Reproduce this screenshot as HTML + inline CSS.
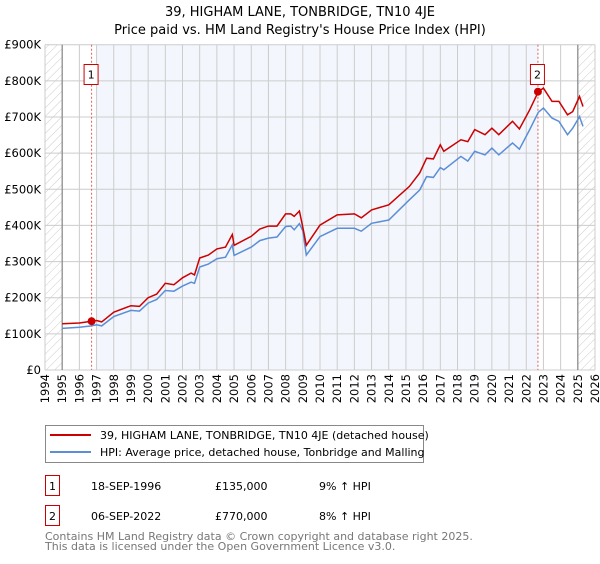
<!DOCTYPE html>
<html><head><meta charset="utf-8"><style>
body{margin:0;background:#fff;font-family:"DejaVu Sans","Liberation Sans",sans-serif;}
</style></head><body>
<svg width="600" height="560" xmlns="http://www.w3.org/2000/svg" font-family="DejaVu Sans, Liberation Sans, sans-serif">
<defs><pattern id="hatch" width="6" height="6" patternUnits="userSpaceOnUse" patternTransform="rotate(45)"><line x1="0" y1="0" x2="0" y2="6" stroke="#ccc" stroke-width="1"/></pattern></defs>
<text x="300" y="16" text-anchor="middle" font-size="13">39, HIGHAM LANE, TONBRIDGE, TN10 4JE</text>
<text x="300" y="34" text-anchor="middle" font-size="13">Price paid vs. HM Land Registry's House Price Index (HPI)</text>
<g id="plot"></g>
<g>
<rect x="45.5" y="425.5" width="378" height="37" fill="#fff" stroke="#888"/>
<line x1="50" y1="435" x2="91" y2="435" stroke="#cc0000" stroke-width="2"/>
<text x="100" y="439" font-size="11">39, HIGHAM LANE, TONBRIDGE, TN10 4JE (detached house)</text>
<line x1="50" y1="452" x2="91" y2="452" stroke="#5b8ed6" stroke-width="2"/>
<text x="100" y="456" font-size="11">HPI: Average price, detached house, Tonbridge and Malling</text>
</g>
<g font-size="11">
<rect x="45.5" y="475.5" width="14" height="20" fill="#fff" stroke="#cc0000"/>
<text x="52.5" y="490" text-anchor="middle">1</text>
<text x="91" y="490">18-SEP-1996</text><text x="215" y="490">£135,000</text><text x="319" y="490">9% ↑ HPI</text>
<rect x="45.5" y="505.5" width="14" height="20" fill="#fff" stroke="#cc0000"/>
<text x="52.5" y="520" text-anchor="middle">2</text>
<text x="91" y="520">06-SEP-2022</text><text x="215" y="520">£770,000</text><text x="319" y="520">8% ↑ HPI</text>
</g>
<text x="45" y="540" font-size="11" fill="#777">Contains HM Land Registry data © Crown copyright and database right 2025.</text>
<text x="45" y="550" font-size="11" fill="#777">This data is licensed under the Open Government Licence v3.0.</text>
</svg>
<script>
const hpiYears=[1995,1996,1996.7,1997,1997.3,1998,1999,1999.5,2000,2000.5,2001,2001.5,2002,2002.5,2002.7,2003,2003.5,2004,2004.5,2004.9,2005.0,2006,2006.5,2007,2007.5,2008,2008.3,2008.5,2008.8,2009.0,2009.2,2010,2011,2012,2012.4,2013,2014,2015.2,2015.8,2016.2,2016.6,2017.0,2017.2,2018.2,2018.6,2019.0,2019.6,2020.0,2020.4,2021.2,2021.6,2022.2,2022.7,2023.0,2023.5,2023.9,2024.4,2024.7,2025.1,2025.3];
const hpiValues=[115,118,122,125,122,148,165,163,185,195,220,218,232,243,240,285,293,308,312,346,317,340,358,365,368,397,398,388,405,385,318,369,392,392,384,406,415,471,498,535,533,560,554,591,578,605,595,614,595,628,611,665,713,725,697,688,651,669,701,674];
const priceValues=[128,130,135,137,133,160,178,176,200,210,240,236,255,268,263,310,318,335,340,375,345,370,390,398,398,432,432,425,440,395,345,401,429,432,421,443,457,508,545,586,584,623,605,637,632,665,651,669,651,688,667,720,770,780,743,743,706,715,757,729];
const yTicks=[0,100,200,300,400,500,600,700,800,900];
const yTickLabels=["£0","£100K","£200K","£300K","£400K","£500K","£600K","£700K","£800K","£900K"];
const xTicks=[1994,1995,1996,1997,1998,1999,2000,2001,2002,2003,2004,2005,2006,2007,2008,2009,2010,2011,2012,2013,2014,2015,2016,2017,2018,2019,2020,2021,2022,2023,2024,2025,2026];
const sales=[{n:"1",year:1996.71,value:135},{n:"2",year:2022.68,value:770}];
const X=y=>45+(y-1994)*(550/32);
const Y=v=>370-v*(325.3/900);
const NS="http://www.w3.org/2000/svg";
const g=document.getElementById('plot');


function mk(t,a){const e=document.createElementNS(NS,t);for(const k in a)e.setAttribute(k,a[k]);g.appendChild(e);return e;}
let r=mk('rect',{x:X(1994),y:Y(900),width:X(2026)-X(1994),height:Y(0)-Y(900),fill:'#fff'});
r=mk('rect',{x:X(1997),y:Y(900),width:X(2022.68)-X(1997),height:Y(0)-Y(900),fill:'#eef3fc',opacity:0.7});


r=mk('rect',{x:X(1994),y:Y(900),width:X(1995)-X(1994),height:Y(0)-Y(900),fill:'url(#hatch)'});


r=mk('rect',{x:X(2025),y:Y(900),width:X(2026)-X(2025),height:Y(0)-Y(900),fill:'url(#hatch)'});


yTicks.forEach((v,i)=>{
  const l=mk('line',{x1:X(1994),x2:X(2026),y1:Y(v),y2:Y(v),stroke:'#ccc','stroke-width':1});
  
  
  const t=mk('text',{x:X(1994)-4,y:Y(v)+4,'text-anchor':'end','font-size':11.5});
  t.textContent=yTickLabels[i];
  
  
});
xTicks.forEach(v=>{
  const l=mk('line',{x1:X(v),x2:X(v),y1:Y(900),y2:Y(0),stroke:'#ccc','stroke-width':1});
  
  
  const t=mk('text',{x:0,y:0,'text-anchor':'end','font-size':11.5,transform:`translate(${X(v)+4},374) rotate(-90)`});
  t.textContent=v;
  
  
});
[1995,2025].forEach(v=>{const l=mk('line',{x1:X(v),x2:X(v),y1:Y(900),y2:Y(0),stroke:'#888','stroke-width':1.2});
  
  });
sales.forEach(s=>{
  const l=mk('line',{x1:X(s.year),x2:X(s.year),y1:Y(900),y2:Y(0),stroke:'#e06060','stroke-width':1,'stroke-dasharray':'2,2'});
  
  
});
function path(vals){return hpiYears.map((y,i)=>(i?'L':'M')+X(y).toFixed(1)+','+Y(vals[i]).toFixed(1)).join('');}
let p=mk('path',{d:path(hpiValues),fill:'none',stroke:'#5b8ed6','stroke-width':1.5});


p=mk('path',{d:path(priceValues),fill:'none',stroke:'#cc0000','stroke-width':1.5});


sales.forEach(s=>{
  const c=mk('circle',{cx:X(s.year),cy:Y(s.value),r:4,fill:'#cc0000'});
  
  
  const b=mk('rect',{x:X(s.year)-7.5,y:64.5,width:14,height:20,fill:'#fff',stroke:'#cc0000'});
  
  
  const t=mk('text',{x:X(s.year)-0.5,y:78.5,'text-anchor':'middle','font-size':11});
  t.textContent=s.n;
  
  
});
</script>
</body></html>
